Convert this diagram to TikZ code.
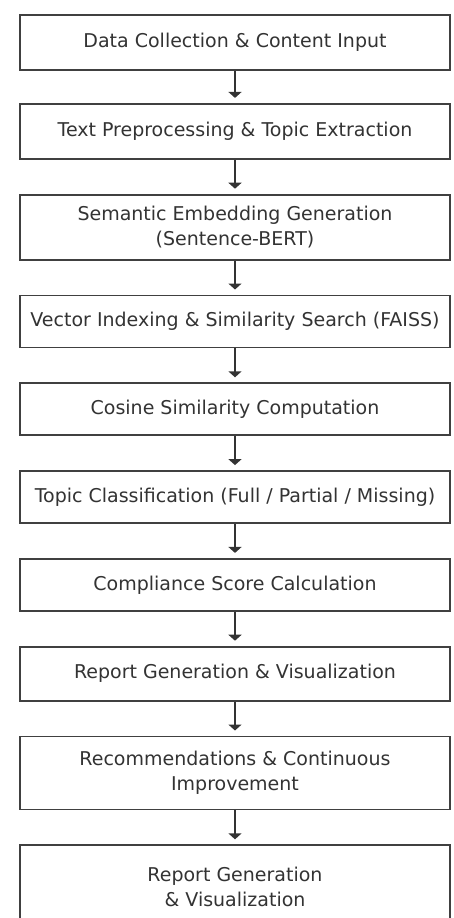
\documentclass[tikz,border=0pt]{standalone}
\usepackage{fontspec}
\setmainfont{DejaVu Sans}
\usepackage{tikz}
\usetikzlibrary{positioning}
\usetikzlibrary{arrows.meta}

\begin{document}
\begin{tikzpicture}[x=1pt,y=1pt,node distance=34pt,
	flow box/.style={rectangle, draw=black!75, line width=1.8pt, fill=white, minimum width=430pt, align=center, text=black!80, font=\fontsize{19}{25}\selectfont},
	flow arrow/.style={-{Triangle[width=13pt,length=6pt]}, line width=1.6pt, draw=black!80, shorten >=5pt}]
	\clip (0,0) rectangle (453,-918);
	\fill[white] (0,0) rectangle (453,-918);
	% Nodes
	\node[flow box, minimum height=55pt] (1) at (235,-42.5) {Data Collection \& Content Input};
	\node[flow box, minimum height=55pt] (2) [below=32pt of 1] {Text Preprocessing \& Topic Extraction};
	\node[flow box, minimum height=65pt] (3) [below=of 2] {Semantic Embedding Generation\\(Sentence-BERT)};
	\node[flow box, minimum height=52pt] (4) [below=of 3] {Vector Indexing \& Similarity Search (FAISS)};
	\node[flow box, minimum height=52pt] (5) [below=of 4] {Cosine Similarity Computation};
	\node[flow box, minimum height=52pt] (6) [below=of 5] {Topic Classification (Full / Partial / Missing)};
	\node[flow box, minimum height=52pt] (7) [below=of 6] {Compliance Score Calculation};
	\node[flow box, minimum height=54pt] (8) [below=of 7] {Report Generation \& Visualization};
	\node[flow box, minimum height=73pt] (9) [below=of 8] {Recommendations \& Continuous\\Improvement};
	\node[flow box, minimum height=84pt] (10) [below=of 9] {Report Generation\\\& Visualization};
	
	% Arrows
	\foreach \a/\b in {1/2,2/3,3/4,4/5,5/6,6/7,7/8,8/9,9/10}
		\draw[flow arrow] (\a) -- (\b);
	
\end{tikzpicture}
\end{document}
